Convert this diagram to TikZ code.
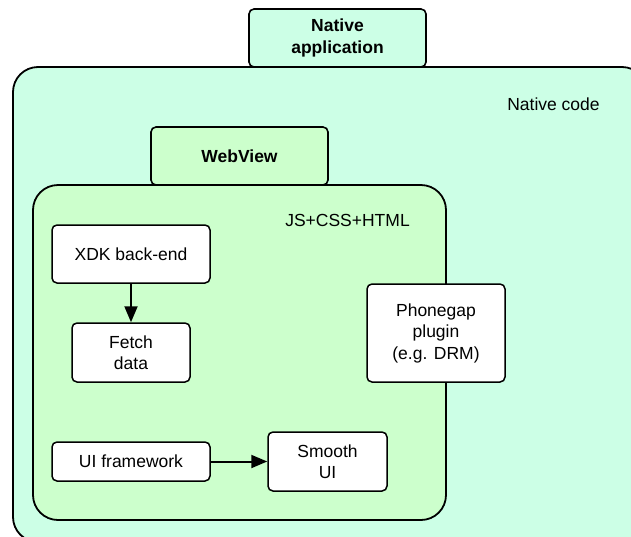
\documentclass[tikz,border=0pt]{standalone}
\usepackage{fontspec}
\setmainfont{Liberation Sans}
\usetikzlibrary{arrows.meta}
\definecolor{mintfill}{RGB}{204,255,230}
\definecolor{greenfill}{RGB}{204,255,204}
\tikzstyle{container} = [draw=black, line width=1.8pt, rectangle, rounded corners=25pt, inner sep=0pt]
\tikzstyle{tabbox} = [draw=black, line width=1.6pt, rectangle, rounded corners=5pt, align=center, font=\fontsize{17.5}{21.5}\selectfont\bfseries]
\tikzstyle{block} = [draw=black, fill=white, line width=1.5pt, rectangle, rounded corners=5pt, align=center]
\tikzstyle{flow} = [-{Triangle[length=16pt,width=13pt]}, line width=2pt]
\begin{document}
\begin{tikzpicture}[x=1pt, y=-1pt, font=\fontsize{17.5}{21.5}\selectfont]
\useasboundingbox (0,0) rectangle (631,536);
\clip (0,0) rectangle (631,536);
% outer layer
\node[container, fill=mintfill, minimum width=634pt, minimum height=475pt] (native) at (330,304.5) {};
\node (nativelbl) at (553.5,104) {Native code};
\node[tabbox, fill=mintfill, minimum width=177pt, minimum height=58pt] (app) at (337.5,38) {Native\\application};
% web layer
\node[tabbox, fill=greenfill, minimum width=177pt, minimum height=58pt] (webview) at (239.5,156) {WebView};
\node[container, fill=greenfill, minimum width=413pt, minimum height=335pt] (web) at (239.5,352.5) {};
\node (weblbl) at (347.5,220) {JS+CSS+HTML};
% blocks
\node[block, minimum width=158pt, minimum height=58pt] (xdk) at (131,254) {XDK back-end};
\node[block, minimum width=118pt, minimum height=59pt] (fetch) at (131,352.5) {Fetch\\data};
\node[block, minimum width=138pt, minimum height=98pt] (plugin) at (436,333) {Phonegap\\plugin\\(e.g. DRM)};
\node[block, minimum width=158pt, minimum height=39pt] (uifw) at (131,461.5) {UI framework};
\node[block, minimum width=119pt, minimum height=59pt] (smooth) at (327.5,461.5) {Smooth\\UI};
\draw[flow] (xdk) -- (fetch);
\draw[flow] (uifw) -- (smooth);
\end{tikzpicture}
\end{document}
